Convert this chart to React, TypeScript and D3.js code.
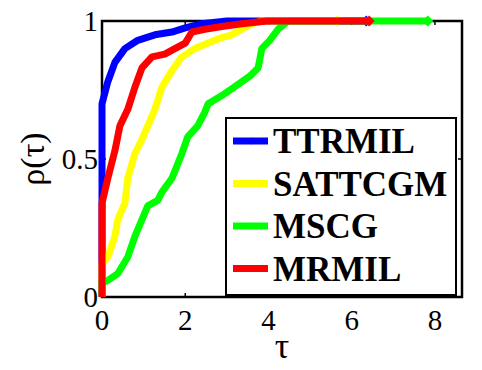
import React from 'react';
import { scaleLinear, line } from 'd3';

// performance profile curves (tau, rho)
const ttrmilTau = [0, 0, 0.14, 0.31, 0.55, 0.86, 1.27, 1.68, 2.0, 2.4, 3.0, 6.35];
const ttrmilRho = [0, 0.70, 0.78, 0.85, 0.90, 0.93, 0.95, 0.96, 0.975, 0.99, 1.0, 1.0];

const sattcgmTau = [0, 0, 0.14, 0.31, 0.38, 0.55, 0.62, 0.79, 0.96, 1.1, 1.27, 1.44, 1.68, 1.92, 2.23, 2.55, 2.88, 3.12, 3.36, 3.6, 3.84, 5.65];
const sattcgmRho = [0, 0.12, 0.145, 0.22, 0.28, 0.34, 0.43, 0.52, 0.57, 0.62, 0.68, 0.76, 0.82, 0.87, 0.90, 0.92, 0.94, 0.95, 0.97, 0.99, 1.0, 1.0];

const mscgTau = [0, 0, 0.14, 0.38, 0.62, 0.79, 0.96, 1.1, 1.34, 1.44, 1.68, 1.92, 2.06, 2.3, 2.47, 2.55, 2.88, 3.27, 3.55, 3.75, 3.79, 3.84, 4.03, 4.23, 4.47, 7.83];
const mscgRho = [0, 0.05, 0.06, 0.085, 0.145, 0.22, 0.28, 0.33, 0.35, 0.38, 0.43, 0.52, 0.58, 0.62, 0.67, 0.70, 0.73, 0.77, 0.80, 0.83, 0.86, 0.90, 0.93, 0.97, 1.0, 1.0];

const mrmilTau = [0, 0, 0.14, 0.31, 0.43, 0.62, 0.79, 0.96, 1.2, 1.51, 1.75, 2.0, 2.16, 2.47, 2.88, 3.36, 3.96, 6.42];
const mrmilRho = [0, 0.34, 0.43, 0.53, 0.62, 0.68, 0.76, 0.83, 0.87, 0.88, 0.90, 0.92, 0.96, 0.97, 0.98, 0.99, 1.0, 1.0];

const seriesNames = ['TTRMIL', 'SATTCGM', 'MSCG', 'MRMIL'];
const seriesColors = ['#0000ff', '#ffff00', '#00ff00', '#ff0000'];
const seriesTau = [ttrmilTau, sattcgmTau, mscgTau, mrmilTau];
const seriesRho = [ttrmilRho, sattcgmRho, mscgRho, mrmilRho];

const xTicks = [0, 2, 4, 6, 8];
const yTicks = [0, 0.5, 1];

const width = 482;
const height = 370;
const font = 'Liberation Serif';

const diamond = 'M0,-5.5L5.5,0L0,5.5L-5.5,0Z';

const App = () => {
    const xScale = scaleLinear().domain([0, 8.65]).range([102, 462]);
    const yScale = scaleLinear().domain([0, 1]).range([297, 21]);

    const path = line<[number, number]>()
        .x(d => xScale(d[0]))
        .y(d => yScale(d[1]));

    const [x0, x1] = xScale.range();
    const [y0, y1] = yScale.range();

    return (
        <svg width={width} height={height} fontFamily={font}>
            {/* body keeps its 8px margin, so shift the drawing back */}
            <g transform="translate(-8, -8)">
                <rect width={width} height={height} fill="#fff" />

                {/* ticks */}
                {xTicks.map(t =>
                    <g key={`xt-${t}`}>
                        <line x1={xScale(t)} x2={xScale(t)} y1={y0} y2={y0 - 4} stroke="#000" strokeWidth={1.5} />
                        <line x1={xScale(t)} x2={xScale(t)} y1={y1} y2={y1 + 4} stroke="#000" strokeWidth={1.5} />
                        <text x={xScale(t)} y={y0 + 33} textAnchor="middle" fontSize={29}>{t}</text>
                    </g>
                )}
                {yTicks.map(t =>
                    <g key={`yt-${t}`}>
                        <line x1={x0} x2={x0 + 4} y1={yScale(t)} y2={yScale(t)} stroke="#000" strokeWidth={1.5} />
                        <line x1={x1} x2={x1 - 4} y1={yScale(t)} y2={yScale(t)} stroke="#000" strokeWidth={1.5} />
                        <text x={x0 - 4} y={yScale(t) + 10} textAnchor="end" fontSize={29}>{t}</text>
                    </g>
                )}

                <rect x={x0} y={y1} width={x1 - x0} height={y0 - y1} fill="none" stroke="#000" strokeWidth={2.5} />

                {/* curves */}
                {seriesNames.map((name, i) => {
                    const pts = seriesTau[i].map((t, j) => [t, seriesRho[i][j]] as [number, number]);
                    const last = pts[pts.length - 1];
                    return (
                        <g key={`s-${name}`}>
                            <path d={path(pts) || ''} fill="none" stroke={seriesColors[i]} strokeWidth={7} strokeLinejoin="round" />
                            <path d={diamond} transform={`translate(${xScale(last[0])}, ${yScale(last[1])})`} fill={seriesColors[i]} />
                        </g>
                    );
                })}

                {/* legend */}
                <rect x={226} y={118} width={230} height={177} fill="#fff" stroke="#000" strokeWidth={2} />
                {seriesNames.map((name, i) =>
                    <g key={`l-${name}`} transform={`translate(0, ${141 + i * 42.5})`}>
                        <line x1={233} x2={268} y1={0} y2={0} stroke={seriesColors[i]} strokeWidth={7} />
                        <path d="M0,-3.5L3.5,0L0,3.5L-3.5,0Z" transform="translate(251,0)" fill={seriesColors[i]} />
                        <text x={273} y={12} fontWeight="bold" fontSize={35}>{name}</text>
                    </g>
                )}

                {/* axis labels */}
                <text x={(x0 + x1) / 2} y={358} textAnchor="middle" fontSize={36}>τ</text>
                <text transform={`translate(44, ${(y0 + y1) / 2}) rotate(-90)`} textAnchor="middle" fontSize={34}>ρ(τ)</text>
            </g>
        </svg>
    );
};

export default App;
